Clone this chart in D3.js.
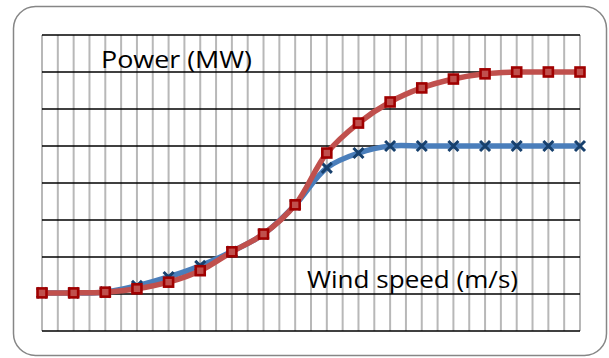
<!DOCTYPE html>
<html lang="en">
<head>
<meta charset="UTF-8">
<title>Power curve</title>
<style>
    body { margin: 0; background: #fff; }
    svg { display: block; }
</style>
</head>
<body>
<div id="chart"></div>
<script src="https://d3js.org/d3.v7.min.js"></script>
<script>
    // wind speed steps (one marker per step), power for two turbines
    const windSpeed = d3.range(0, 18)
    const powerBlue = [1.03, 1.03, 1.05, 1.22, 1.46, 1.76, 2.15, 2.62, 3.41, 4.41, 4.81, 5, 5, 5, 5, 5, 5, 5]
    const powerRed = [1.03, 1.03, 1.05, 1.14, 1.32, 1.63, 2.14, 2.62, 3.41, 4.81, 5.62, 6.19, 6.57, 6.81, 6.95, 7, 7, 7]
    const xMinorTicks = d3.range(0, 17.01, 0.5)
    const yTicks = d3.range(0, 9)

    const width = 609
    const height = 358
    const svg = d3.select('#chart').append('svg')
        .attr('width', width)
        .attr('height', height)

    // outer chart frame
    svg.append('rect')
        .attr('x', 13.5).attr('y', 6.5)
        .attr('width', 593).attr('height', 349)
        .attr('rx', 22).attr('ry', 22)
        .attr('fill', '#fff')
        .attr('stroke', '#868686')
        .attr('stroke-width', 1.5)

    const x = d3.scaleLinear().domain([0, 17]).range([42, 580])
    const y = d3.scaleLinear().domain([0, 8]).range([331, 35])

    // vertical gray gridlines
    svg.append('g')
        .selectAll('line')
        .data(xMinorTicks)
        .enter()
        .append('line')
        .attr('x1', d => x(d)).attr('x2', d => x(d))
        .attr('y1', y(8)).attr('y2', y(0))
        .attr('stroke', '#b8b8b8')
        .attr('stroke-width', 2)

    // horizontal black gridlines
    svg.append('g')
        .selectAll('line')
        .data(yTicks)
        .enter()
        .append('line')
        .attr('x1', x(0)).attr('x2', x(17))
        .attr('y1', d => y(d)).attr('y2', d => y(d))
        .attr('stroke', '#000')
        .attr('stroke-width', 1.7)

    // labels inside plot
    const labels = [
        { text: 'Power (MW)', x: 101, y: 68, w: 151 },
        { text: 'Wind speed (m/s)', x: 307, y: 288, w: 211 }
    ]
    svg.append('g')
        .selectAll('text')
        .data(labels)
        .enter()
        .append('text')
        .attr('x', d => d.x)
        .attr('y', d => d.y)
        .attr('textLength', d => d.w)
        .attr('lengthAdjust', 'spacingAndGlyphs')
        .attr('font-family', 'Open Sans, sans-serif')
        .attr('font-size', 23)
        .attr('fill', '#000')
        .text(d => d.text)

    const line = d3.line()
        .x((d, i) => x(windSpeed[i]))
        .y(d => y(d))
        .curve(d3.curveCatmullRom.alpha(0.5))

    // blue series
    svg.append('path')
        .attr('d', line(powerBlue))
        .attr('fill', 'none')
        .attr('stroke', '#4a7ebb')
        .attr('stroke-width', 5.5)

    const cross = 5
    svg.append('g')
        .selectAll('path')
        .data(powerBlue)
        .enter()
        .append('path')
        .attr('d', (d, i) => {
            const cx = x(windSpeed[i]), cy = y(d)
            return `M${cx - cross},${cy - cross}L${cx + cross},${cy + cross}M${cx - cross},${cy + cross}L${cx + cross},${cy - cross}`
        })
        .attr('stroke', '#17406d')
        .attr('stroke-width', 3)

    // red series
    svg.append('path')
        .attr('d', line(powerRed))
        .attr('fill', 'none')
        .attr('stroke', '#c0504d')
        .attr('stroke-width', 5.5)

    const sq = 9
    svg.append('g')
        .selectAll('rect')
        .data(powerRed)
        .enter()
        .append('rect')
        .attr('x', (d, i) => x(windSpeed[i]) - sq / 2)
        .attr('y', d => y(d) - sq / 2)
        .attr('width', sq).attr('height', sq)
        .attr('fill', '#c0504d')
        .attr('stroke', '#a00000')
        .attr('stroke-width', 2.6)
</script>
</body>
</html>
